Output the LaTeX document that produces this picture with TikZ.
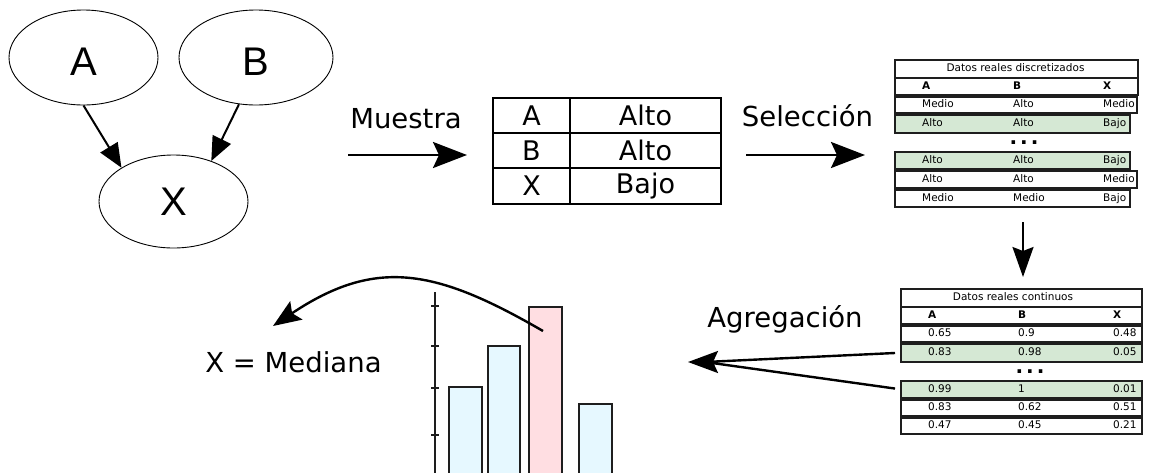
\documentclass[tikz,border=0pt]{standalone}
\usepackage{fontspec}
\setmainfont{DejaVu Sans}
\newfontfamily\arialf{Liberation Sans}
\usetikzlibrary{shapes.geometric,arrows.meta}
\definecolor{rowgreen}{RGB}{213,232,212}
\definecolor{barblue}{RGB}{230,248,255}
\definecolor{barpink}{RGB}{255,222,226}
\definecolor{edgegray}{RGB}{30,30,30}
\begin{document}
\begin{tikzpicture}[x=1pt,y=-1pt,
  ell/.style={draw, ellipse, line width=0.9pt, minimum width=149pt, minimum height=95pt, inner sep=0pt, font=\arialf\fontsize{40}{44}\selectfont},
  gv/.style={line width=2pt, -{Triangle[length=24pt,width=20pt]}},
  bigarrow/.style={line width=2.6pt, -{Stealth[length=34pt,width=26pt,inset=6pt]}},
  bigtext/.style={font=\fontsize{27.5}{31}\selectfont, anchor=base, inner sep=0pt},
  mcell/.style={draw, line width=2.6pt, inner sep=0pt, font=\fontsize{27}{30}\selectfont},
  trow/.style={draw=edgegray, line width=1.5pt, inner sep=0pt, anchor=north west},
  ttxt/.style={font=\fontsize{10.5}{12}\selectfont, anchor=base west, inner sep=0pt},
  thead/.style={font=\bfseries\fontsize{10.5}{12}\selectfont, anchor=base west, inner sep=0pt},
  ttitle/.style={font=\fontsize{10.5}{12}\selectfont, anchor=base, inner sep=0pt},
  tdots/.style={font=\bfseries\fontsize{20}{22}\selectfont, anchor=base, inner sep=0pt},
  bar/.style={draw=edgegray, line width=1.5pt},
  axisline/.style={draw=edgegray, line width=1.3pt}
]
\useasboundingbox (0,0) rectangle (1149,472);
\clip (0,0) rectangle (1149,472);

% --- Bayesian network ---
\node[ell, text height=36pt] (A) at (83.5,57.5) {A};
\node[ell, text height=36pt, minimum width=154pt] (B) at (256,57.5) {B};
\node[ell, minimum height=93pt] (X) at (173.5,201.5) {X};
\draw[gv] (A.south) -- (X.147);
\draw[gv] (B.250.6) -- (X.47.3);

% --- Muestra ---
\node[bigtext] (muestra) at (406,128) {Muestra};
\coordinate (mu1) at (348,155);
\coordinate (mu2) at (467,155);
\draw[bigarrow] (mu1) -- (mu2);

% --- sample table ---
\node[mcell, minimum width=77pt, minimum height=35pt] (m11) at (531.5,115.5) {A};
\node[mcell, minimum width=151pt, minimum height=35pt] (m12) at (645.5,115.5) {Alto};
\node[mcell, minimum width=77pt, minimum height=35pt] (m21) at (531.5,150.5) {B};
\node[mcell, minimum width=151pt, minimum height=35pt] (m22) at (645.5,150.5) {Alto};
\node[mcell, minimum width=77pt, minimum height=36pt] (m31) at (531.5,186) {X};
\node[mcell, minimum width=151pt, minimum height=36pt] (m32) at (645.5,186) {Bajo};

% --- Seleccion ---
\node[bigtext] (sel) at (807.5,126) {Selección};
\coordinate (se1) at (746,155);
\coordinate (se2) at (865,155);
\draw[bigarrow] (se1) -- (se2);

% --- discretized table ---
\node[trow, minimum width=243pt, minimum height=18pt] (dtt) at (894,59) {};
\node[ttitle] (dttx) at (1015.5,71.8) {Datos reales discretizados};
\node[trow, minimum width=243pt, minimum height=17pt] (dth) at (894,77) {};
\node[thead] (dtha) at (922,89.3) {A};
\node[thead] (dthb) at (1013,89.3) {B};
\node[thead] (dthx) at (1103,89.3) {X};

\node[trow, minimum width=242pt, minimum height=16pt] (dt1) at (894,96) {};
\node[ttxt] at (922,107.8) {Medio};
\node[ttxt] at (1013,107.8) {Alto};
\node[ttxt] at (1103,107.8) {Medio};

\node[trow, fill=rowgreen, minimum width=235pt, minimum height=18pt] (dt2) at (894,114) {};
\node[ttxt] at (922,126.8) {Alto};
\node[ttxt] at (1013,126.8) {Alto};
\node[ttxt] at (1103,126.8) {Bajo};

\node[tdots] (dtdots) at (1024,144) {.\hspace{3pt}.\hspace{3pt}.};

\node[trow, fill=rowgreen, minimum width=235pt, minimum height=17pt] (dt3) at (894,151) {};
\node[ttxt] at (922,163.3) {Alto};
\node[ttxt] at (1013,163.3) {Alto};
\node[ttxt] at (1103,163.3) {Bajo};

\node[trow, minimum width=242pt, minimum height=17pt] (dt4) at (894,170) {};
\node[ttxt] at (922,182.3) {Alto};
\node[ttxt] at (1013,182.3) {Alto};
\node[ttxt] at (1103,182.3) {Medio};

\node[trow, minimum width=235pt, minimum height=17pt] (dt5) at (894,189) {};
\node[ttxt] at (922,201.3) {Medio};
\node[ttxt] at (1013,201.3) {Medio};
\node[ttxt] at (1103,201.3) {Bajo};

% --- down arrow ---
\coordinate (d1) at (1023,222);
\coordinate (d2) at (1023,277);
\draw[line width=2.2pt, -{Stealth[length=30pt,width=21pt,inset=4pt]}] (d1) -- (d2);

% --- continuous table ---
\node[trow, minimum width=241pt, minimum height=18pt] (ctt) at (900,288) {};
\node[ttitle] (cttx) at (1013,300.8) {Datos reales continuos};
\node[trow, minimum width=241pt, minimum height=17pt] (cth) at (900,306) {};
\node[thead] (ctha) at (928,318.3) {A};
\node[thead] (cthb) at (1018,318.3) {B};
\node[thead] (cthx) at (1113,318.3) {X};

\node[trow, minimum width=241pt, minimum height=16pt] (ct1) at (900,325) {};
\node[ttxt] at (928,336.8) {0.65};
\node[ttxt] at (1018,336.8) {0.9};
\node[ttxt] at (1113,336.8) {0.48};

\node[trow, fill=rowgreen, minimum width=241pt, minimum height=18pt] (ct2) at (900,343) {};
\node[ttxt] at (928,355.8) {0.83};
\node[ttxt] at (1018,355.8) {0.98};
\node[ttxt] at (1113,355.8) {0.05};

\node[tdots] (ctdots) at (1030,373) {.\hspace{3pt}.\hspace{3pt}.};

\node[trow, fill=rowgreen, minimum width=241pt, minimum height=17pt] (ct3) at (900,380) {};
\node[ttxt] at (928,392.3) {0.99};
\node[ttxt] at (1018,392.3) {1};
\node[ttxt] at (1113,392.3) {0.01};

\node[trow, minimum width=241pt, minimum height=16pt] (ct4) at (900,399) {};
\node[ttxt] at (928,410.8) {0.83};
\node[ttxt] at (1018,410.8) {0.62};
\node[ttxt] at (1113,410.8) {0.51};

\node[trow, minimum width=241pt, minimum height=16pt] (ct5) at (900,417) {};
\node[ttxt] at (928,428.8) {0.47};
\node[ttxt] at (1018,428.8) {0.45};
\node[ttxt] at (1113,428.8) {0.21};

% --- aggregation ---
\node[bigtext] (agg) at (785,327) {Agregación};
\coordinate (agtip) at (688,362);
\coordinate (agbase) at (718,362);
\coordinate (agjoin) at (705,362);
\draw[line width=2.4pt, shorten <=5pt] (ct2.west) -- (agjoin);
\draw[line width=2.4pt, shorten <=5pt] (ct3.west) -- (agjoin);
\draw[line width=2.4pt, -{Stealth[length=30pt,width=22pt,inset=5pt]}] (agbase) -- (agtip);

% --- histogram ---
\draw[axisline] (435,292) -- (435,480);
\foreach \ty in {306,346,388,435} \draw[axisline] (431,\ty) -- (439,\ty);
\draw[bar, fill=barblue] (449,387) rectangle (482,480);
\draw[bar, fill=barblue] (488,346) rectangle (520,480);
\draw[bar, fill=barpink] (529,307) rectangle (562,480);
\draw[bar, fill=barblue] (579,404) rectangle (612,480);

% --- median arrow ---
\node[bigtext] (med) at (293.5,372) {X = Mediana};
\coordinate (cstart) at (543,331);
\coordinate (cend) at (273,326);
\draw[line width=2.4pt, -{Stealth[length=28pt,width=22pt,inset=5pt]}] (cstart) .. controls (436,269) and (376,257) .. (cend);
\end{tikzpicture}
\end{document}
